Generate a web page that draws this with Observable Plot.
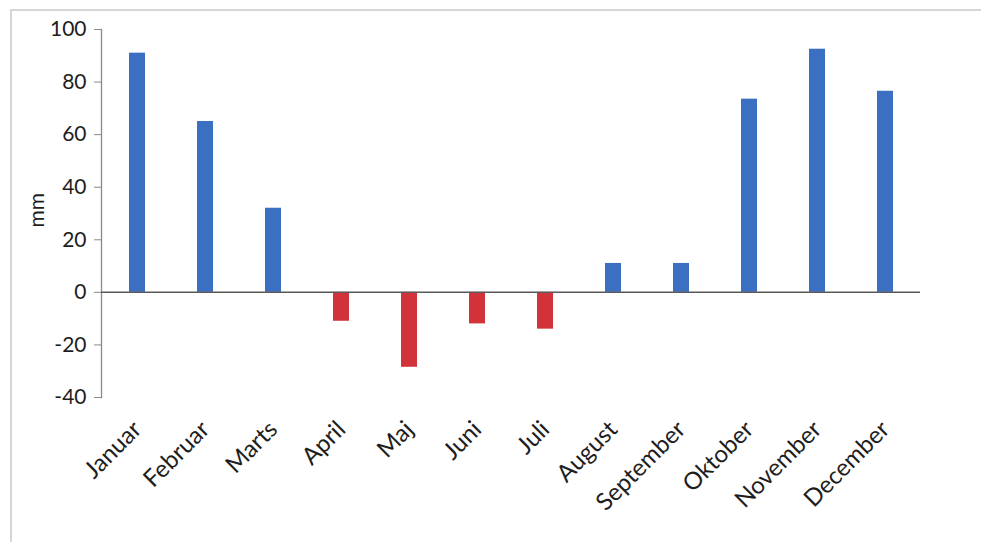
<!DOCTYPE html>
<html>
<head>
<meta charset="utf-8">
<script src="https://cdn.jsdelivr.net/npm/d3@7"></script>
<script src="https://cdn.jsdelivr.net/npm/@observablehq/plot@0.6"></script>
<style>
  html, body { margin: 0; padding: 0; background: #fff; overflow: hidden; }
  #page { position: absolute; left: 0; top: 0; width: 981px; height: 542px; overflow: hidden; }
  #frame {
    position: absolute; left: 10px; top: 9px; width: 1200px; height: 700px;
    border-top: 2px solid #d6d6d6; border-left: 2px solid #d6d6d6;
  }
  #chart { position: absolute; left: 0; top: 0; }
</style>
</head>
<body>
<div id="page">
  <div id="frame"></div>
  <div id="chart"></div>
</div>
<script>
// Monthly precipitation surplus / deficit (mm)
const months = ["Januar", "Februar", "Marts", "April", "Maj", "Juni", "Juli",
                "August", "September", "Oktober", "November", "December"];
const values = [91, 65, 32, -11, -28.5, -12, -14, 11, 11, 73.5, 92.5, 76.5];
const yTicks = [-40, -20, 0, 20, 40, 60, 80, 100];

const data = months.map((month, i) => ({month, value: values[i]}));
const blue = "#3a6fc2";
const red = "#d2333a";
const font = "Lato, 'Open Sans', sans-serif";

const chart = Plot.plot({
  width: 981,
  height: 542,
  marginLeft: 101,
  marginRight: 61,
  marginTop: 29,
  marginBottom: 145,
  style: {fontFamily: font, background: "transparent"},
  x: {domain: months, paddingInner: 0.77, paddingOuter: 0.385, axis: null},
  y: {domain: [-40, 100], axis: null},
  marks: [
    Plot.barY(data.filter(d => d.value >= 0), {x: "month", y: "value", fill: blue}),
    Plot.barY(data.filter(d => d.value < 0), {x: "month", y: "value", fill: red}),
    Plot.frame({anchor: "left", stroke: "#8a8a8a", strokeWidth: 1.3}),
    Plot.ruleY([0], {stroke: "#5a5a5a", strokeWidth: 1.5}),
    Plot.axisY(yTicks, {
      tickSize: 7, tickPadding: 8, fontSize: 21, stroke: "#8a8a8a", fill: "#1e1e1e",
      label: null, tickFormat: d => d < 0 ? "-" + Math.abs(d) : String(d)
    }),
    Plot.axisX({
      tickSize: 0, tickRotate: -45, tickPadding: 28, fontSize: 24, fill: "#1e1e1e", label: null
    }),
    Plot.text(["mm"], {
      frameAnchor: "left", dx: -64, dy: 14, rotate: -90, fontSize: 21, fill: "#1e1e1e"
    })
  ]
});

document.getElementById("chart").appendChild(chart);
</script>
</body>
</html>
